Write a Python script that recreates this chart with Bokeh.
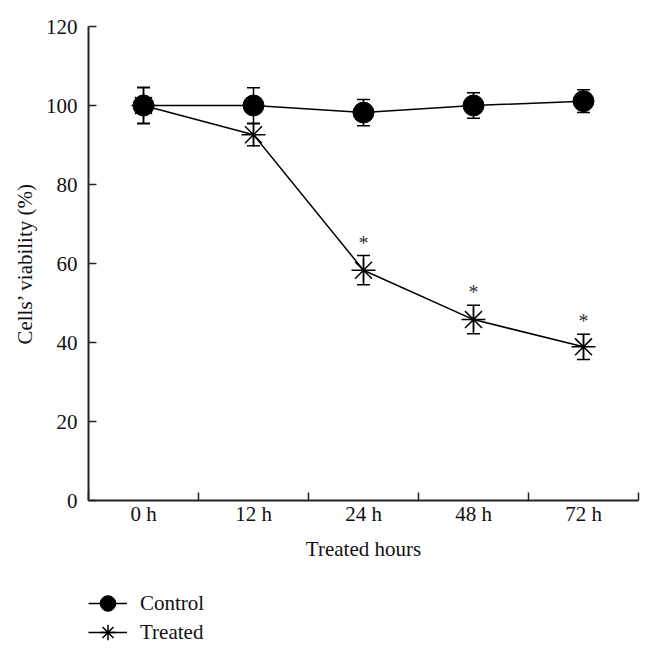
from bokeh.plotting import figure
from bokeh.layouts import column
from bokeh.models import (ColumnDataSource, Whisker, TeeHead, FixedTicker, Legend, LegendItem, Range1d)
from bokeh.core.properties import value
from bokeh.embed import file_html
from bokeh.resources import INLINE

categories = ["0 h", "12 h", "24 h", "48 h", "72 h"]
control_mean = [100.0, 100.0, 98.2, 100.0, 101.1]
control_err = [4.6, 4.5, 3.3, 3.2, 2.9]
treated_mean = [100.0, 92.6, 58.3, 45.8, 38.9]
treated_err = [4.5, 2.8, 3.7, 3.6, 3.2]
significant = [False, False, True, True, True]
y_ticks = [0, 20, 40, 60, 80, 100, 120]

FONT = "Liberation Serif"
FS = "21px"
INK = "#111111"
xs = [i + 0.5 for i in range(len(categories))]

ctrl = ColumnDataSource(dict(x=xs, y=control_mean,
                             lo=[m - e for m, e in zip(control_mean, control_err)],
                             hi=[m + e for m, e in zip(control_mean, control_err)]))
trt = ColumnDataSource(dict(x=xs, y=treated_mean,
                            lo=[m - e for m, e in zip(treated_mean, treated_err)],
                            hi=[m + e for m, e in zip(treated_mean, treated_err)]))
stars = ColumnDataSource(dict(
    x=[x for x, s in zip(xs, significant) if s],
    y=[m + e + 3.3 for m, e, s in zip(treated_mean, treated_err, significant) if s],
    t=["*" for s in significant if s]))

p = figure(width=645, height=575, output_backend="svg", toolbar_location=None,
           x_range=Range1d(0, len(categories)), y_range=Range1d(0, 120),
           min_border_left=88, min_border_right=7, min_border_top=26, min_border_bottom=75)
p.outline_line_color = None
p.grid.grid_line_color = None

# x axis: labels centred on categories, ticks on the boundaries
xa = p.xaxis[0]
xa.ticker = FixedTicker(ticks=xs, minor_ticks=list(range(len(categories) + 1)))
xa.major_label_overrides = {x: c for x, c in zip(xs, categories)}
xa.major_tick_line_color = None
xa.major_tick_in = 0
xa.major_tick_out = 0
xa.minor_tick_in = 8
xa.minor_tick_out = 0
xa.minor_tick_line_width = 1.5
xa.minor_tick_line_color = "#222222"
xa.axis_label = "Treated hours"
xa.major_label_standoff = 1
xa.axis_label_standoff = 8

ya = p.yaxis[0]
ya.ticker = FixedTicker(ticks=y_ticks)
ya.major_tick_in = 8
ya.major_tick_out = 0
ya.minor_tick_line_color = None
ya.axis_label = "Cells’ viability (%)"
ya.axis_label_standoff = 6
ya.major_label_standoff = 11
ya.major_tick_line_width = 1.5
ya.major_tick_line_color = "#222222"

for ax in (xa, ya):
    ax.axis_line_width = 2
    ax.axis_line_color = "#222222"
    ax.major_label_text_font = FONT
    ax.major_label_text_font_size = FS
    ax.major_label_text_color = INK
    ax.axis_label_text_font = FONT
    ax.axis_label_text_font_size = FS
    ax.axis_label_text_font_style = "normal"
    ax.axis_label_text_color = INK

def whisker(src):
    return Whisker(base="x", lower="lo", upper="hi", source=src, line_width=1.5, line_color="black",
                   upper_head=TeeHead(size=13, line_width=1.5, line_color="black"),
                   lower_head=TeeHead(size=13, line_width=1.5, line_color="black"))

# treated series (behind)
p.add_layout(whisker(trt))
p.line("x", "y", source=trt, line_width=1.5, line_color="black")
p.scatter("x", "y", source=trt, marker="asterisk", size=24, line_width=1.5, line_color="black")

# control series (front)
p.add_layout(whisker(ctrl))
p.line("x", "y", source=ctrl, line_width=1.5, line_color="black")
p.scatter("x", "y", source=ctrl, marker="circle", size=21, fill_color="black", line_color="black")

p.text("x", "y", text="t", source=stars, text_font=value(FONT), text_font_size="20px",
       text_align="center", text_baseline="alphabetic", text_color="#333333")

# legend strip below the chart (its frame is aligned with the chart's frame)
lg = figure(width=645, height=69, output_backend="svg", toolbar_location=None,
            x_axis_type=None, y_axis_type=None,
            x_range=Range1d(0, 1), y_range=Range1d(1000, 1001),
            min_border_left=0, min_border_right=0, min_border_top=0, min_border_bottom=0)
lg.outline_line_color = None
lg.grid.grid_line_color = None
l_c_line = lg.line("x", "y", source=ctrl, line_width=1.5, line_color="black")
l_c_mark = lg.scatter("x", "y", source=ctrl, marker="circle", fill_color="black", line_color="black")
l_t_line = lg.line("x", "y", source=trt, line_width=1.5, line_color="black")
l_t_mark = lg.scatter("x", "y", source=trt, marker="asterisk", line_width=1.5, line_color="black")

def make_legend(label, renderers, y_off):
    return Legend(items=[LegendItem(label=label, renderers=renderers)],
                  location=(0, y_off), orientation="vertical",
                  glyph_width=39, glyph_height=42, label_height=42, spacing=0,
                  label_standoff=13, padding=0, margin=0, border_line_color=None,
                  background_fill_alpha=0, label_text_baseline="alphabetic",
                  label_text_font=FONT, label_text_font_size=FS, label_text_color=INK)

lg.add_layout(make_legend("Control", [l_c_line, l_c_mark], 20))
lg.add_layout(make_legend("Treated", [l_t_line, l_t_mark], -9))

layout = column(p, lg, spacing=0)
open("out.html", "w").write(file_html(layout, INLINE))
